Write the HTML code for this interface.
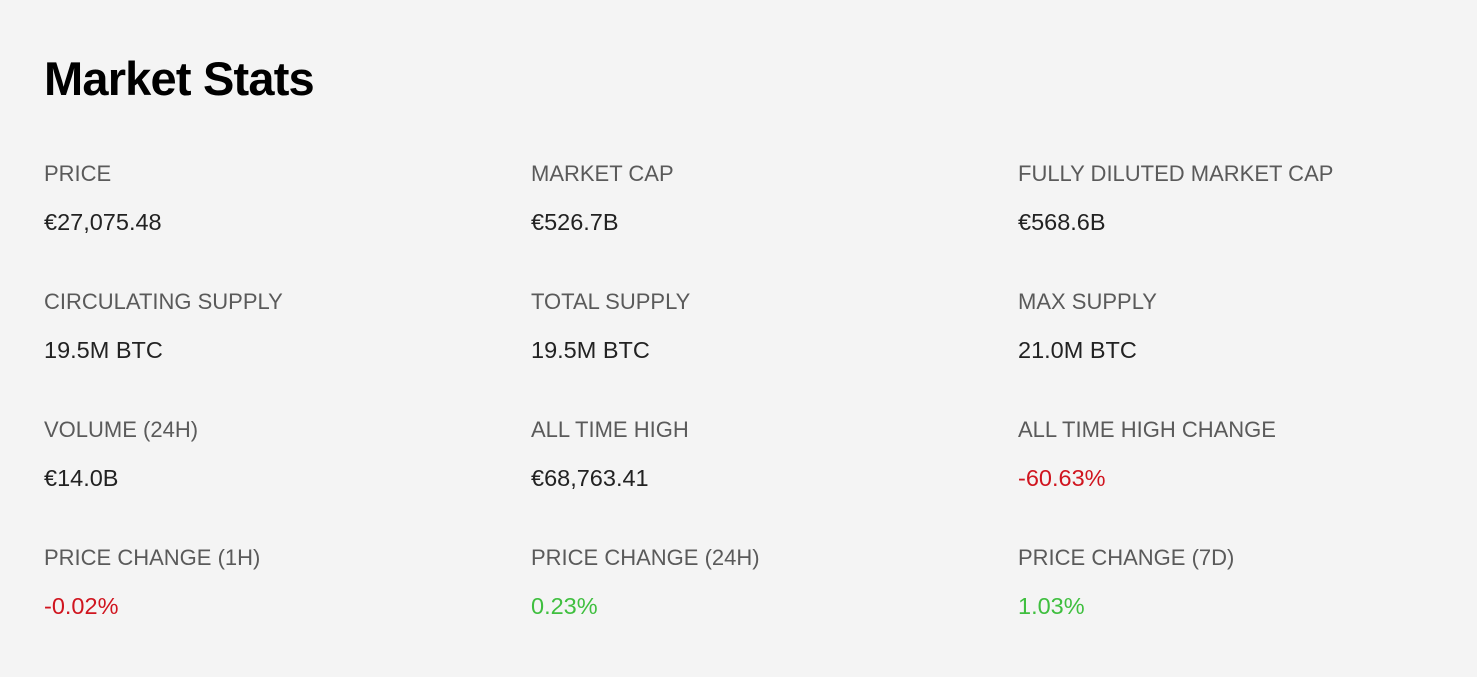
<!DOCTYPE html>
<html><head><meta charset="utf-8"><style>
html,body{margin:0;padding:0;}
body{width:1477px;height:677px;background:#f4f4f4;position:relative;overflow:hidden;font-family:"Liberation Sans",sans-serif;}
h1{position:absolute;left:44px;top:51px;margin:0;font-size:47px;line-height:56px;font-weight:bold;color:#000;letter-spacing:-0.8px;}
.l,.v{position:absolute;line-height:24px;white-space:nowrap;}
.l{color:#5a5a5a;font-size:22px;}
.v{color:#222;font-size:23.5px;}
.red{color:#d0151f;}
.green{color:#3fbf3f;}
</style></head><body>
<h1>Market Stats</h1>
<div id="grid"></div>
<script>
const labels=["PRICE","MARKET CAP","FULLY DILUTED MARKET CAP","CIRCULATING SUPPLY","TOTAL SUPPLY","MAX SUPPLY","VOLUME (24H)","ALL TIME HIGH","ALL TIME HIGH CHANGE","PRICE CHANGE (1H)","PRICE CHANGE (24H)","PRICE CHANGE (7D)"];
const values=["€27,075.48","€526.7B","€568.6B","19.5M BTC","19.5M BTC","21.0M BTC","€14.0B","€68,763.41","-60.63%","-0.02%","0.23%","1.03%"];
const tones=["","","","","","","","","red","red","green","green"];
const g=document.getElementById('grid');
labels.forEach((t,i)=>{
  const c=i%3,r=Math.floor(i/3);
  const x=44+c*487,y=162+r*128;
  const l=document.createElement('div');
  l.className='l';l.textContent=t;l.style.left=x+'px';l.style.top=y+'px';
  
  
  g.appendChild(l);
  const v=document.createElement('div');
  v.className='v '+tones[i];v.textContent=values[i];v.style.left=x+'px';v.style.top=(y+48)+'px';
  
  
  g.appendChild(v);
});
</script>
</body></html>
